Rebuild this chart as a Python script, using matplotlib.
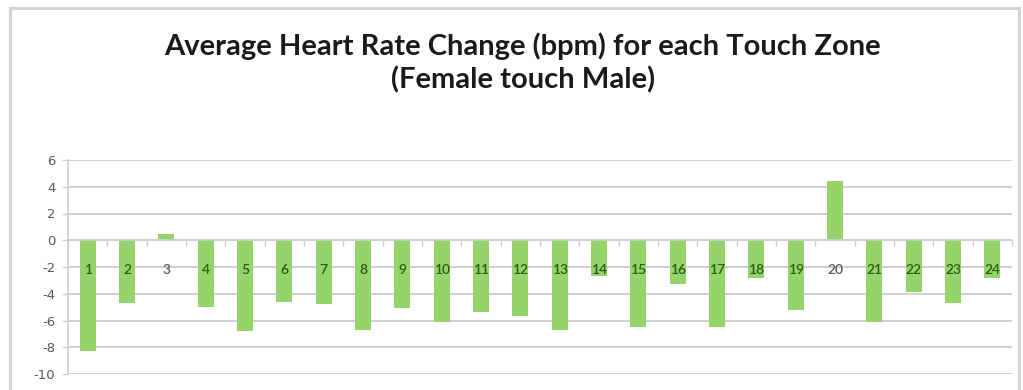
import matplotlib
matplotlib.use("Agg")
import matplotlib.pyplot as plt
from matplotlib.patches import Rectangle
import numpy as np

# Average heart rate change (bpm) per touch zone, female touching male
zones = [str(i) for i in range(1, 25)]
hr_change = [-8.3, -4.7, 0.5, -5.0, -6.8, -4.6, -4.8, -6.7, -5.1, -6.1, -5.4, -5.7,
             -6.7, -2.7, -6.5, -3.3, -6.5, -2.8, -5.2, 4.4, -6.1, -3.9, -4.7, -2.8]
y_ticks = [-10, -8, -6, -4, -2, 0, 2, 4, 6]

title_text = "Average Heart Rate Change (bpm) for each Touch Zone\n(Female touch Male)"

BAR = "#94d46a"
GRID = "#cfcfcf"
AXIS_TXT = "#595959"
LABEL_ON_BAR = "#2c5a14"

W, H = 1023, 390
fig = plt.figure(figsize=(W / 100, H / 100), dpi=100)
fig.patch.set_facecolor("white")

# chart-area frame
fig.add_artist(Rectangle((10 / W, -0.1), (1019 - 10) / W, 0.1 + (H - 8) / H,
                         transform=fig.transFigure, fill=False,
                         edgecolor="#d4d4d4", linewidth=2.2, clip_on=False))

left, right = 68 / W, 1012 / W
bottom, top = (H - 374) / H, (H - 160) / H
ax = fig.add_axes([left, bottom, right - left, top - bottom])

x = np.arange(1, len(zones) + 1)
ax.bar(x, hr_change, width=0.41, color=BAR, zorder=2)

ax.set_xlim(0.5, len(zones) + 0.5)
ax.set_ylim(-10, 6)
ax.set_yticks(y_ticks)
ax.set_yticklabels([str(v) for v in y_ticks])
ax.tick_params(axis="y", colors=GRID, labelcolor=AXIS_TXT, labelsize=9.5,
               length=4, width=1, pad=5)
ax.yaxis.grid(True, color=GRID, linewidth=1.4, zorder=0)
ax.set_axisbelow(True)

# category axis sits on the zero line with marks between categories
ax.spines["bottom"].set_position(("data", 0))
ax.spines["bottom"].set_color(GRID)
ax.spines["bottom"].set_linewidth(1.2)
ax.spines["left"].set_color(GRID)
ax.spines["left"].set_linewidth(1.2)
ax.spines["top"].set_visible(False)
ax.spines["right"].set_visible(False)
ax.set_xticks(np.arange(0.5, len(zones) + 1.0, 1.0))
ax.set_xticklabels([])
ax.tick_params(axis="x", colors=GRID, length=4, width=1, direction="out")

for xi, lab, v in zip(x, zones, hr_change):
    col = LABEL_ON_BAR if v < -2.5 else AXIS_TXT
    ax.text(xi, -2.2, lab, ha="center", va="center", fontsize=10,
            fontweight="semibold", color=col, zorder=3, family="Lato")

fig.text(0.511, (H - 63) / H, title_text, ha="center", va="center",
         fontsize=21, fontweight="bold", family="Lato", color="#1a1a1a",
         linespacing=1.25)

fig.savefig("out.png", dpi=100, facecolor="white")
